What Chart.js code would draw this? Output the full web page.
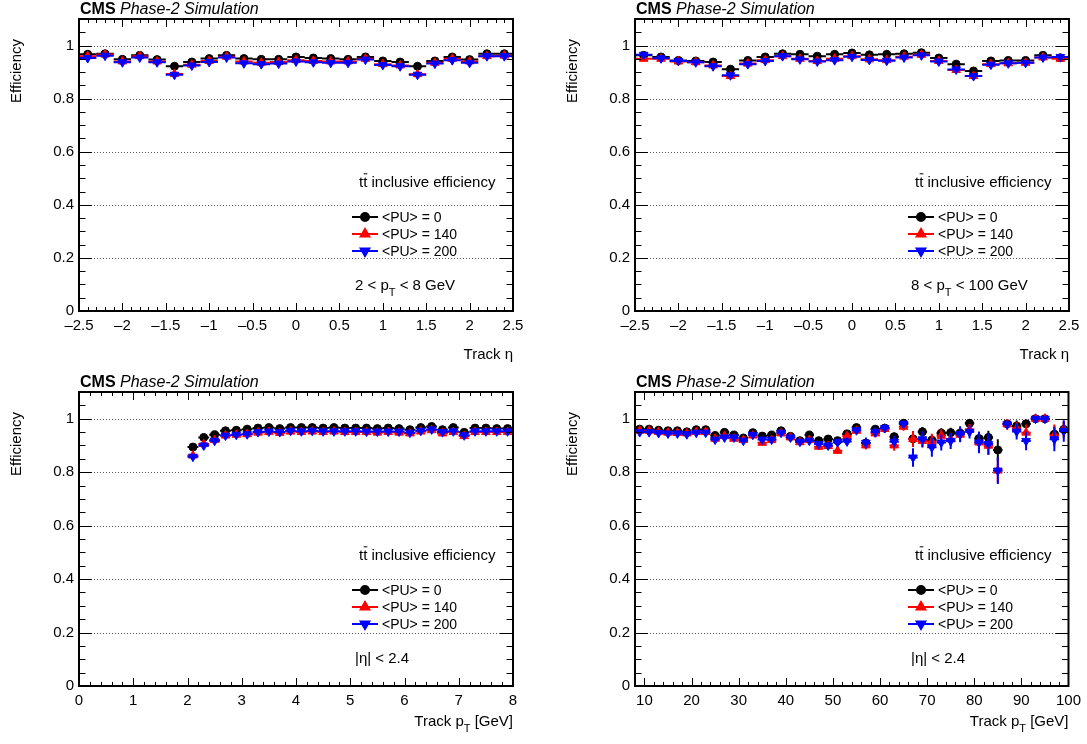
<!DOCTYPE html>
<html lang="en">
<head>
<meta charset="UTF-8">
<title>Tracking efficiency</title>
<script src="https://cdn.jsdelivr.net/npm/chart.js"></script>
<style>
  body { margin: 0; background: #fff; }
  #wrap { position: relative; width: 1087px; height: 744px; overflow: hidden; }
  canvas { position: absolute; }
</style>
</head>
<body>
<div id="wrap">
  <canvas id="c1" width="543" height="372" style="left:0;top:0"></canvas>
  <canvas id="c2" width="531" height="372" style="left:556px;top:0"></canvas>
  <canvas id="c3" width="543" height="371" style="left:0;top:373px"></canvas>
  <canvas id="c4" width="531" height="371" style="left:556px;top:373px"></canvas>
</div>
<script>
  // --- axis ticks ---
  const effTicks = [0, 0.2, 0.4, 0.6, 0.8, 1.0];
  const etaTicks = [-2.5, -2, -1.5, -1, -0.5, 0, 0.5, 1, 1.5, 2, 2.5];
  const ptLowTicks = [0, 1, 2, 3, 4, 5, 6, 7, 8];
  const ptHighTicks = [10, 20, 30, 40, 50, 60, 70, 80, 90, 100];

  // --- eta bins (width 0.2) ---
  const etaCenters = [-2.4, -2.2, -2.0, -1.8, -1.6, -1.4, -1.2, -1.0, -0.8, -0.6, -0.4, -0.2, 0, 0.2, 0.4, 0.6, 0.8, 1.0, 1.2, 1.4, 1.6, 1.8, 2.0, 2.2, 2.4];

  // 2 < pT < 8 GeV
  const etaLowPU0   = [0.967, 0.969, 0.948, 0.963, 0.947, 0.922, 0.938, 0.951, 0.963, 0.951, 0.948, 0.948, 0.957, 0.953, 0.951, 0.948, 0.957, 0.942, 0.938, 0.922, 0.942, 0.957, 0.947, 0.969, 0.969];
  const etaLowPU140 = [0.960, 0.966, 0.940, 0.960, 0.940, 0.893, 0.928, 0.942, 0.958, 0.940, 0.935, 0.938, 0.945, 0.942, 0.940, 0.940, 0.950, 0.930, 0.925, 0.892, 0.935, 0.950, 0.940, 0.960, 0.962];
  const etaLowPU200 = [0.953, 0.962, 0.937, 0.955, 0.937, 0.890, 0.925, 0.938, 0.955, 0.933, 0.930, 0.932, 0.940, 0.937, 0.935, 0.935, 0.947, 0.927, 0.922, 0.890, 0.932, 0.945, 0.935, 0.960, 0.960];

  // 8 < pT < 100 GeV
  const etaHighPU0   = [0.963, 0.957, 0.944, 0.942, 0.938, 0.911, 0.944, 0.957, 0.969, 0.967, 0.960, 0.967, 0.972, 0.965, 0.967, 0.969, 0.973, 0.953, 0.930, 0.904, 0.942, 0.944, 0.944, 0.963, 0.954];
  const etaHighPU140 = [0.950, 0.950, 0.940, 0.937, 0.925, 0.885, 0.932, 0.945, 0.960, 0.950, 0.942, 0.950, 0.960, 0.948, 0.945, 0.958, 0.965, 0.942, 0.908, 0.885, 0.930, 0.933, 0.935, 0.955, 0.950];
  const etaHighPU200 = [0.965, 0.952, 0.942, 0.937, 0.922, 0.888, 0.930, 0.942, 0.960, 0.948, 0.940, 0.945, 0.958, 0.946, 0.943, 0.955, 0.963, 0.940, 0.910, 0.885, 0.928, 0.933, 0.935, 0.955, 0.957];

  // --- pT bins 2-8 GeV (width 0.2) ---
  const ptLowCenters = [2.1, 2.3, 2.5, 2.7, 2.9, 3.1, 3.3, 3.5, 3.7, 3.9, 4.1, 4.3, 4.5, 4.7, 4.9, 5.1, 5.3, 5.5, 5.7, 5.9, 6.1, 6.3, 6.5, 6.7, 6.9, 7.1, 7.3, 7.5, 7.7, 7.9];
  const ptLowPU0   = [0.894, 0.930, 0.940, 0.955, 0.957, 0.961, 0.965, 0.967, 0.963, 0.967, 0.967, 0.967, 0.965, 0.967, 0.965, 0.965, 0.965, 0.963, 0.965, 0.963, 0.959, 0.967, 0.971, 0.959, 0.967, 0.949, 0.965, 0.965, 0.963, 0.963];
  const ptLowPU140 = [0.862, 0.905, 0.920, 0.937, 0.940, 0.942, 0.948, 0.950, 0.947, 0.952, 0.950, 0.952, 0.950, 0.952, 0.950, 0.950, 0.950, 0.948, 0.950, 0.948, 0.945, 0.952, 0.957, 0.945, 0.950, 0.935, 0.950, 0.950, 0.950, 0.950];
  const ptLowPU200 = [0.858, 0.900, 0.918, 0.937, 0.940, 0.942, 0.950, 0.952, 0.950, 0.955, 0.953, 0.955, 0.953, 0.953, 0.953, 0.953, 0.952, 0.952, 0.952, 0.952, 0.948, 0.955, 0.960, 0.950, 0.953, 0.938, 0.953, 0.953, 0.953, 0.953];

  // --- pT bins 8-100 GeV (width 2) ---
  const ptHighCenters = [9, 11, 13, 15, 17, 19, 21, 23, 25, 27, 29, 31, 33, 35, 37, 39, 41, 43, 45, 47, 49, 51, 53, 55, 57, 59, 61, 63, 65, 67, 69, 71, 73, 75, 77, 79, 81, 83, 85, 87, 89, 91, 93, 95, 97, 99];
  const ptHighPU0   = [0.961, 0.961, 0.957, 0.955, 0.955, 0.951, 0.959, 0.959, 0.937, 0.949, 0.939, 0.928, 0.948, 0.935, 0.939, 0.955, 0.934, 0.918, 0.939, 0.918, 0.924, 0.918, 0.943, 0.967, 0.909, 0.961, 0.965, 0.933, 0.983, 0.925, 0.951, 0.920, 0.946, 0.948, 0.946, 0.983, 0.926, 0.930, 0.883, 0.981, 0.973, 0.981, 1.0, 1.0, 0.942, 0.960];
  const ptHighPU140 = [0.955, 0.955, 0.950, 0.948, 0.947, 0.945, 0.950, 0.950, 0.925, 0.935, 0.925, 0.920, 0.937, 0.910, 0.920, 0.945, 0.930, 0.912, 0.920, 0.895, 0.898, 0.880, 0.935, 0.955, 0.900, 0.945, 0.962, 0.900, 0.970, 0.924, 0.917, 0.914, 0.936, 0.923, 0.940, 0.960, 0.911, 0.899, 0.806, 0.979, 0.963, 0.948, 1.0, 1.0, 0.938, 0.960];
  const ptHighPU200 = [0.950, 0.950, 0.947, 0.945, 0.945, 0.942, 0.948, 0.948, 0.922, 0.930, 0.930, 0.918, 0.940, 0.922, 0.922, 0.948, 0.930, 0.914, 0.918, 0.905, 0.900, 0.912, 0.915, 0.957, 0.910, 0.950, 0.965, 0.914, 0.981, 0.855, 0.923, 0.893, 0.911, 0.917, 0.942, 0.951, 0.911, 0.905, 0.806, 0.979, 0.952, 0.917, 1.0, 1.0, 0.923, 0.954];
  const ptHighErrPU0   = [0.002, 0.002, 0.002, 0.002, 0.002, 0.002, 0.002, 0.002, 0.003, 0.003, 0.003, 0.003, 0.003, 0.003, 0.003, 0.003, 0.005, 0.006, 0.006, 0.007, 0.007, 0.008, 0.008, 0.008, 0.010, 0.010, 0.012, 0.015, 0.012, 0.020, 0.018, 0.020, 0.018, 0.018, 0.020, 0.015, 0.025, 0.025, 0.040, 0.015, 0.020, 0.015, 0, 0, 0.030, 0.030];
  const ptHighErrPU140 = [0.003, 0.003, 0.003, 0.003, 0.003, 0.003, 0.003, 0.003, 0.004, 0.004, 0.004, 0.004, 0.004, 0.004, 0.004, 0.004, 0.008, 0.008, 0.010, 0.010, 0.010, 0.012, 0.012, 0.012, 0.015, 0.015, 0.015, 0.020, 0.015, 0.030, 0.025, 0.030, 0.025, 0.025, 0.025, 0.020, 0.035, 0.035, 0.045, 0.020, 0.025, 0.030, 0, 0, 0.040, 0.030];
  const ptHighErrPU200 = [0.003, 0.003, 0.003, 0.003, 0.003, 0.003, 0.003, 0.003, 0.004, 0.004, 0.004, 0.004, 0.004, 0.004, 0.004, 0.004, 0.008, 0.010, 0.010, 0.012, 0.012, 0.015, 0.015, 0.012, 0.020, 0.018, 0.015, 0.022, 0.012, 0.035, 0.030, 0.035, 0.030, 0.030, 0.030, 0.025, 0.040, 0.040, 0.050, 0.015, 0.030, 0.035, 0, 0, 0.045, 0.040];

  const seriesNames = ['<PU> = 0', '<PU> = 140', '<PU> = 200'];
  const seriesColors = ['#000000', '#ff0000', '#0000ff'];

  const FONT = '"Liberation Sans", Arial, Helvetica, sans-serif';
  const markerOpts = [
    { pointStyle: 'circle', radius: 4, rotation: 0 },
    { pointStyle: 'triangle', radius: 5, rotation: 0 },
    { pointStyle: 'triangle', radius: 5, rotation: 180 }
  ];

  // draws text made of pieces: [text] normal, [text, 'sub'] subscript, [text, 'bar'] with overline
  function drawRich(ctx, parts, x, y, size, align) {
    const mainF = size + 'px ' + FONT;
    const subF = Math.round(size * 0.72) + 'px ' + FONT;
    let w = 0;
    parts.forEach(p => { ctx.font = p[1] === 'sub' ? subF : mainF; w += ctx.measureText(p[0]).width; });
    let cx = align === 'right' ? x - w : x;
    ctx.textAlign = 'left';
    ctx.textBaseline = 'alphabetic';
    ctx.fillStyle = '#000';
    parts.forEach(p => {
      ctx.font = p[1] === 'sub' ? subF : mainF;
      const pw = ctx.measureText(p[0]).width;
      ctx.fillText(p[0], cx, p[1] === 'sub' ? y + size * 0.4 : y);
      if (p[1] === 'bar') {
        ctx.strokeStyle = '#000';
        ctx.lineWidth = 1;
        ctx.beginPath();
        ctx.moveTo(cx + 0.5, y - size * 0.88);
        ctx.lineTo(cx + pw, y - size * 0.88);
        ctx.stroke();
      }
      cx += pw;
    });
  }

  const rootStyle = {
    id: 'rootStyle',
    beforeDatasetsDraw(chart) {
      const { ctx, chartArea: a, scales: { y } } = chart;
      ctx.save();
      ctx.strokeStyle = '#555';
      ctx.lineWidth = 1;
      ctx.setLineDash([1, 2]);
      effTicks.forEach(v => {
        if (v === 0) return;
        const py = Math.round(y.getPixelForValue(v)) + 0.5;
        ctx.beginPath();
        ctx.moveTo(a.left, py);
        ctx.lineTo(a.right, py);
        ctx.stroke();
      });
      ctx.restore();
    },
    beforeDatasetDraw(chart, args) {
      const ds = chart.data.datasets[args.index];
      const { ctx, chartArea: a, scales: { x, y } } = chart;
      ctx.save();
      ctx.beginPath();
      ctx.rect(a.left, a.top, a.right - a.left, a.bottom - a.top);
      ctx.clip();
      ctx.strokeStyle = ds.borderColor;
      ctx.lineWidth = 2;
      ctx.beginPath();
      ds.data.forEach((p, i) => {
        const py = y.getPixelForValue(p.y);
        ctx.moveTo(x.getPixelForValue(p.x - ds.halfWidth), py);
        ctx.lineTo(x.getPixelForValue(p.x + ds.halfWidth), py);
        if (ds.errY && ds.errY[i] > 0) {
          const px = x.getPixelForValue(p.x);
          ctx.moveTo(px, y.getPixelForValue(Math.max(0, p.y - ds.errY[i])));
          ctx.lineTo(px, y.getPixelForValue(Math.min(1, p.y + ds.errY[i])));
        }
      });
      ctx.stroke();
      ctx.restore();
    },
    afterDraw(chart, args, opts) {
      const { ctx, chartArea: a, scales: { x, y } } = chart;
      ctx.save();
      // frame
      ctx.strokeStyle = '#000';
      ctx.lineWidth = 2;
      ctx.strokeRect(a.left, a.top, a.right - a.left, a.bottom - a.top);
      // ticks on all four sides, pointing inwards
      ctx.lineWidth = 1;
      ctx.beginPath();
      const xs = opts.minorStep;
      for (let k = Math.ceil(x.min / xs - 1e-9); k * xs <= x.max + 1e-9; k++) {
        const v = k * xs;
        const major = opts.xTicks.some(t => Math.abs(t - v) < 1e-6);
        const len = major ? 8 : 4;
        const px = Math.round(x.getPixelForValue(v)) + 0.5;
        ctx.moveTo(px, a.bottom); ctx.lineTo(px, a.bottom - len);
        ctx.moveTo(px, a.top); ctx.lineTo(px, a.top + len);
      }
      for (let k = 0; k * 0.05 <= y.max + 1e-9; k++) {
        const v = k * 0.05;
        const major = k % 4 === 0;
        const len = major ? 13 : 6.5;
        const py = Math.round(y.getPixelForValue(v)) + 0.5;
        ctx.moveTo(a.left, py); ctx.lineTo(a.left + len, py);
        ctx.moveTo(a.right, py); ctx.lineTo(a.right - len, py);
      }
      ctx.stroke();

      // header
      ctx.fillStyle = '#000';
      ctx.textAlign = 'left';
      ctx.textBaseline = 'alphabetic';
      ctx.font = 'bold 16px ' + FONT;
      ctx.fillText('CMS', a.left + 1, a.top - 5);
      const cmsW = ctx.measureText('CMS ').width;
      ctx.font = 'italic 16px ' + FONT;
      ctx.fillText('Phase-2 Simulation', a.left + 1 + cmsW, a.top - 5);

      // axis titles
      ctx.save();
      ctx.translate(21, a.top + 20);
      ctx.rotate(-Math.PI / 2);
      ctx.font = '15px ' + FONT;
      ctx.textAlign = 'right';
      ctx.fillText('Efficiency', 0, 0);
      ctx.restore();
      drawRich(ctx, opts.xTitle, a.right, a.bottom + opts.titleOff, 15, 'right');

      // annotations
      drawRich(ctx, [['t'], ['t', 'bar'], [' inclusive efficiency']], a.left + 280, a.top + 168, 15, 'left');
      drawRich(ctx, opts.cut, a.left + 276, a.top + 271, 15, 'left');

      // legend
      const rows = [198, 215, 232];
      rows.forEach((dy, i) => {
        const ly = a.top + dy;
        ctx.strokeStyle = seriesColors[i];
        ctx.fillStyle = seriesColors[i];
        ctx.lineWidth = 2;
        ctx.beginPath();
        ctx.moveTo(a.left + 273, ly);
        ctx.lineTo(a.left + 299, ly);
        ctx.stroke();
        Chart.helpers.drawPoint(ctx, { ...markerOpts[i], borderWidth: 1 }, a.left + 286, ly);
        ctx.fillStyle = '#000';
        ctx.font = '14px ' + FONT;
        ctx.textAlign = 'left';
        ctx.textBaseline = 'middle';
        ctx.fillText(seriesNames[i], a.left + 303, ly + 1);
      });
      ctx.restore();
    }
  };

  function fmtX(v) {
    return v < 0 ? '\u2013' + Math.abs(v) : String(v);
  }

  function makePanel(p) {
    const datasets = p.ys.map((ys, i) => ({
      label: seriesNames[i],
      data: p.xs.map((xv, j) => ({ x: xv, y: ys[j] })),
      errY: p.errs ? p.errs[i] : null,
      halfWidth: p.hw,
      borderColor: seriesColors[i],
      backgroundColor: seriesColors[i],
      pointStyle: markerOpts[i].pointStyle,
      pointRadius: markerOpts[i].radius,
      rotation: markerOpts[i].rotation,
      pointBorderWidth: 1,
      showLine: false,
      order: 3 - i
    }));
    return new Chart(document.getElementById(p.id), {
      type: 'scatter',
      data: { datasets },
      plugins: [rootStyle],
      options: {
        responsive: false,
        animation: false,
        events: [],
        layout: { padding: { top: 19, right: p.padRight, left: 0, bottom: 0 } },
        plugins: {
          legend: { display: false },
          tooltip: { enabled: false },
          rootStyle: { xTicks: p.xTicks, minorStep: p.minorStep, xTitle: p.xTitle, cut: p.cut, titleOff: p.titleOff }
        },
        scales: {
          x: {
            type: 'linear',
            min: p.xMin,
            max: p.xMax,
            afterBuildTicks: s => { s.ticks = p.xTicks.map(v => ({ value: v })); },
            afterFit: s => { s.height = p.xH; },
            grid: { display: false, drawTicks: false },
            border: { display: false },
            ticks: {
              autoSkip: false, maxRotation: 0, padding: 6, color: '#000',
              font: { family: FONT, size: 15 },
              callback: v => fmtX(v)
            }
          },
          y: {
            type: 'linear',
            min: 0,
            max: 1.1,
            afterBuildTicks: s => { s.ticks = effTicks.map(v => ({ value: v })); },
            afterFit: s => { s.width = 79; },
            grid: { display: false, drawTicks: false },
            border: { display: false },
            ticks: {
              autoSkip: false, padding: 5, color: '#000',
              font: { family: FONT, size: 15 },
              callback: v => String(+v.toFixed(1))
            }
          }
        }
      }
    });
  }

  const titleEta = [['Track \u03b7']];
  const titlePt = [['Track p'], ['T', 'sub'], [' [GeV]']];
  const cutEtaRange = [['|\u03b7| < 2.4']];

  makePanel({ id: 'c1', xs: etaCenters, hw: 0.1, ys: [etaLowPU0, etaLowPU140, etaLowPU200], errs: null,
    xMin: -2.5, xMax: 2.5, xTicks: etaTicks, minorStep: 0.1, xTitle: titleEta,
    cut: [['2 < p'], ['T', 'sub'], [' < 8 GeV']], padRight: 30, xH: 61, titleOff: 48 });
  makePanel({ id: 'c2', xs: etaCenters, hw: 0.1, ys: [etaHighPU0, etaHighPU140, etaHighPU200], errs: null,
    xMin: -2.5, xMax: 2.5, xTicks: etaTicks, minorStep: 0.1, xTitle: titleEta,
    cut: [['8 < p'], ['T', 'sub'], [' < 100 GeV']], padRight: 18, xH: 61, titleOff: 48 });
  makePanel({ id: 'c3', xs: ptLowCenters, hw: 0.1, ys: [ptLowPU0, ptLowPU140, ptLowPU200], errs: null,
    xMin: 0, xMax: 8, xTicks: ptLowTicks, minorStep: 0.2, xTitle: titlePt,
    cut: cutEtaRange, padRight: 30, xH: 58, titleOff: 40 });
  makePanel({ id: 'c4', xs: ptHighCenters, hw: 1, ys: [ptHighPU0, ptHighPU140, ptHighPU200],
    errs: [ptHighErrPU0, ptHighErrPU140, ptHighErrPU200],
    xMin: 8, xMax: 100, xTicks: ptHighTicks, minorStep: 2, xTitle: titlePt,
    cut: cutEtaRange, padRight: 18, xH: 58, titleOff: 40 });
</script>
</body>
</html>
